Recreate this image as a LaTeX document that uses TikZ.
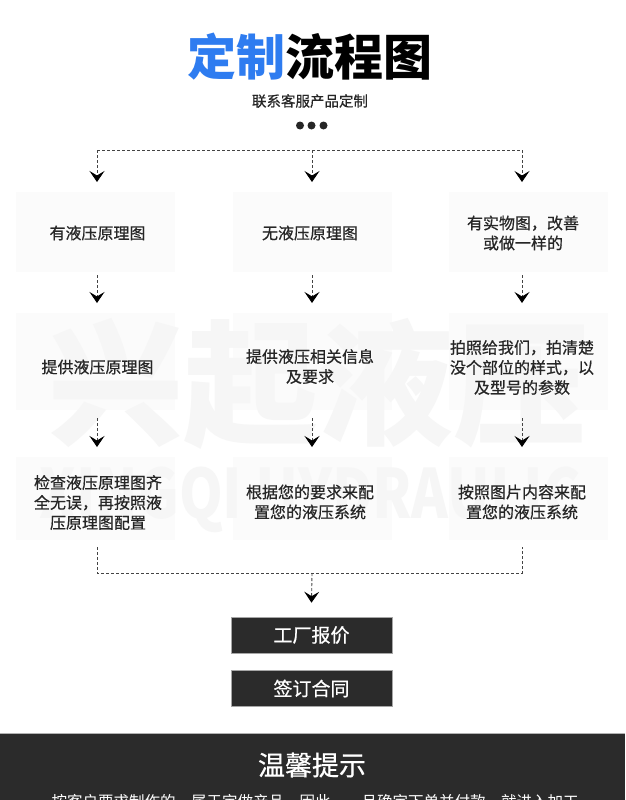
\documentclass[tikz,border=0pt]{standalone}
\usepackage{fontspec}
\setmainfont{Noto Sans CJK SC}
\newfontfamily\medfont[FakeBold=0.6]{Noto Sans CJK SC}
\usetikzlibrary{arrows.meta}
\definecolor{blueT}{HTML}{2E7CF0}
\definecolor{txt}{HTML}{262626}
\definecolor{dashc}{HTML}{444444}
\definecolor{darkbox}{HTML}{2B2B2B}
\definecolor{panelc}{HTML}{FBFBFB}
\definecolor{wmark}{HTML}{F6F6F6}
\tikzset{
  panel/.style={fill=panelc, draw=none, minimum width=159pt, inner sep=0pt},
  body/.style={text=txt, font=\medfont\fontsize{16}{20}\selectfont, align=center, inner sep=0pt},
  flow/.style={draw=dashc, line width=0.9pt, dash pattern=on 3pt off 2pt},
  flowarrow/.style={flow, -{Stealth[length=11pt,width=15pt,inset=4.5pt,color=black,fill=black]}},
  darkbtn/.style={fill=darkbox, draw=gray!70, line width=0.6pt, minimum width=161pt, minimum height=36pt, inner sep=0pt, text=white, font=\medfont\fontsize{19}{22}\selectfont},
}
\begin{document}
\begin{tikzpicture}[x=1pt,y=-1pt]
\useasboundingbox (0,0) rectangle (625,800);
\fill[white] (0,0) rectangle (625,800);

% faint panels
\node[panel, minimum height=80pt] (p1a) at (95.5,232) {};
\node[panel, minimum height=80pt] (p1b) at (312.5,232) {};
\node[panel, minimum height=80pt] (p1c) at (528,232) {};
\node[panel, minimum height=97pt] (p2a) at (95.5,361.5) {};
\node[panel, minimum height=97pt] (p2b) at (312.5,361.5) {};
\node[panel, minimum height=97pt] (p2c) at (528,361.5) {};
\node[panel, minimum height=83pt] (p3a) at (95.5,498.5) {};
\node[panel, minimum height=83pt] (p3b) at (312.5,498.5) {};
\node[panel, minimum height=83pt] (p3c) at (528,498.5) {};

% watermarks
\node[text=wmark, font=\fontsize{135}{135}\selectfont\bfseries, inner sep=0pt] (wm1) at (318,384) {兴起液压};
\node[text=wmark, font=\fontsize{68}{68}\selectfont\bfseries, inner sep=0pt, xscale=0.82] (wm2) at (310,500) {XINGQI HYDRAULIC};

% title
\node[inner sep=0pt, font=\fontsize{49}{52}\selectfont\bfseries] (title) at (310,57) {\textcolor{blueT}{定制}\textcolor{black}{流程图}};
\node[inner sep=0pt, text=txt, font=\medfont\fontsize{14.5}{16}\selectfont] (sub) at (310,101) {联系客服产品定制};
\fill[black!85] (300,125.5) circle (4pt) (311.5,125.5) circle (4pt) (323.5,125.5) circle (4pt);
\node[inner sep=0pt, minimum size=0pt] (dots) at (311.5,125.5) {};

% top split
\coordinate (tl) at (97,150);
\coordinate (tm) at (312,150);
\coordinate (tr) at (522,150);
\draw[flow] (tl) -- (tr);
\coordinate (a1) at (97,182);
\coordinate (a2) at (312,182);
\coordinate (a3) at (522,182);
\draw[flowarrow] (tl) -- (a1);
\draw[flowarrow] (tm) -- (a2);
\draw[flowarrow] (tr) -- (a3);

% row 1 texts
\node[body] (t1a) at (97.5,233) {有液压原理图};
\node[body] (t1b) at (310,233) {无液压原理图};
\node[body] (t1c) at (523,233) {有实物图，改善\\或做一样的};

% row 2 texts
\node[body] (t2a) at (97.5,367) {提供液压原理图};
\node[body] (t2b) at (310,366.5) {提供液压相关信息\\及要求};
\node[body] (t2c) at (522,367.5) {拍照给我们，拍清楚\\没个部位的样式，以\\及型号的参数};

% row 3 texts
\node[body] (t3a) at (98,502.5) {检查液压原理图齐\\全无误，再按照液\\压原理图配置};
\node[body] (t3b) at (310,502) {根据您的要求来配\\置您的液压系统};
\node[body] (t3c) at (522,502) {按照图片内容来配\\置您的液压系统};

% arrows row1 -> row2
\draw[flowarrow] (97,275) -- (97,303);
\draw[flowarrow] (312,275) -- (312,303);
\draw[flowarrow] (522,275) -- (522,303);
% arrows row2 -> row3
\draw[flowarrow] (97,418) -- (97,447);
\draw[flowarrow] (312,418) -- (312,447);
\draw[flowarrow] (522,418) -- (522,447);

% merge
\coordinate (bl) at (97,573);
\coordinate (bm) at (312,573);
\coordinate (br) at (522,573);
\draw[flow] (97,547) -- (bl) -- (br) -- (522,547);

% buttons
\node[darkbtn] (quote) at (311.5,635) {工厂报价};
\node[darkbtn] (sign) at (311.5,688.5) {签订合同};
\draw[flowarrow] (bm) -- ([yshift=14pt]quote.north);

% bottom band
\fill[darkbox] (0,733) rectangle (625,800);
\draw[gray!60, line width=0.8pt] (0,733) -- (625,733);
\node[inner sep=0pt, text=white, font=\medfont\fontsize{27}{30}\selectfont] (tip) at (312,765) {温馨提示};
\node[inner sep=0pt, text=white, font=\fontsize{15.5}{18}\selectfont, anchor=north] (tiptext) at (315,794) {按客户要求制作的，属于定做产品，因此，一旦确定下单并付款，就进入加工};
\end{tikzpicture}
\end{document}
